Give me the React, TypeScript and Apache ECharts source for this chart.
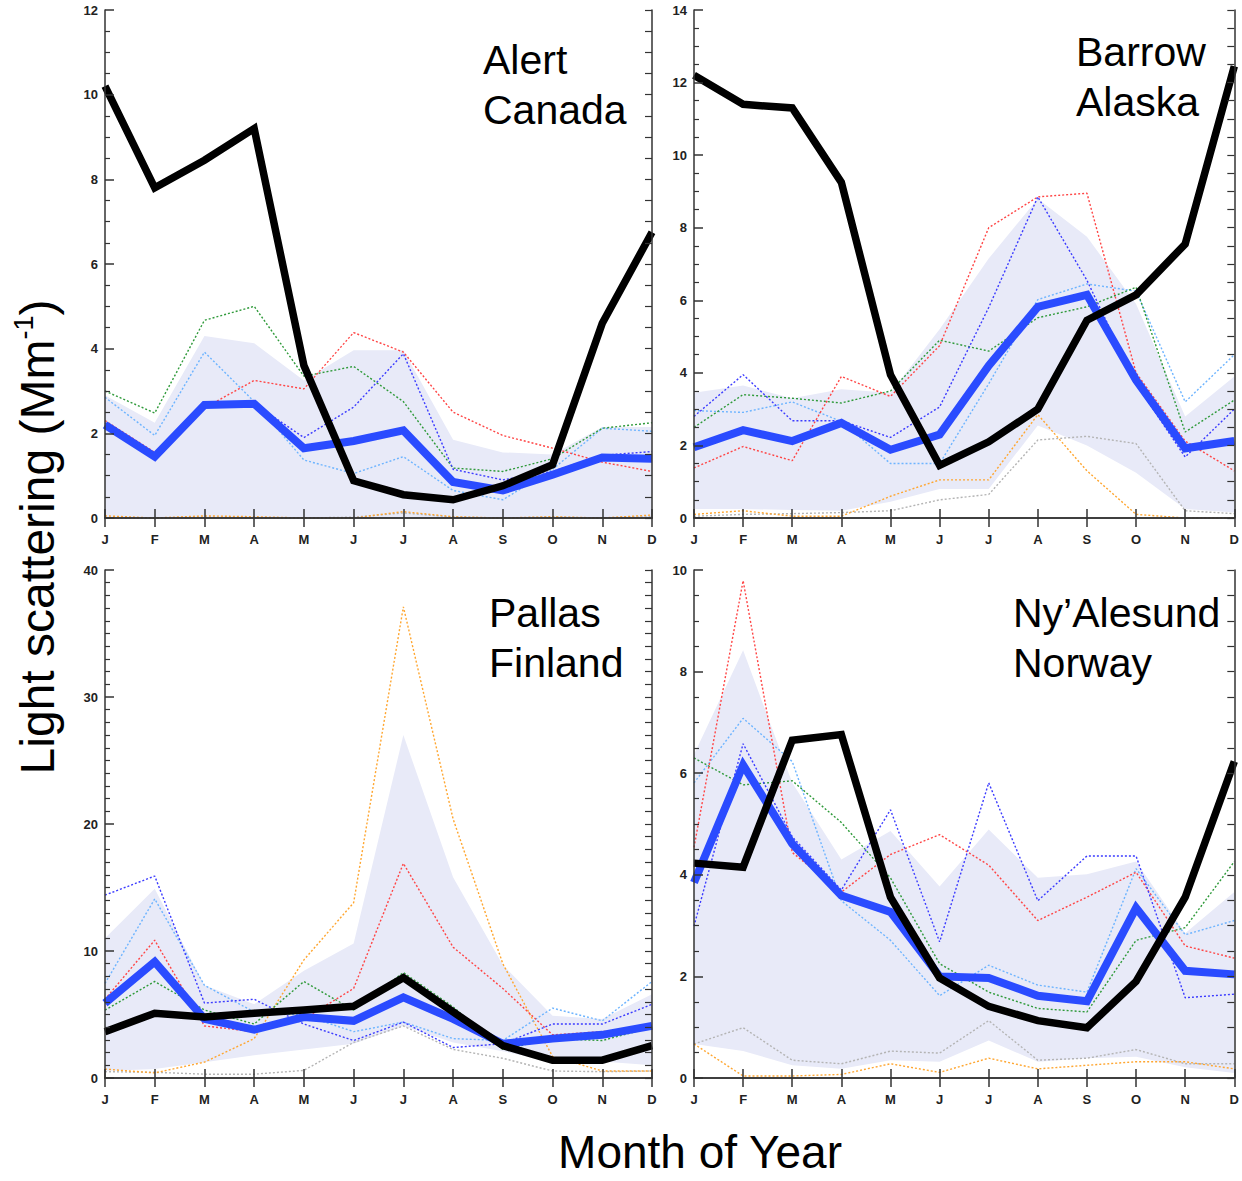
import React, { useEffect, useRef } from 'react';
import * as echarts from 'echarts';

const months = ['J', 'F', 'M', 'A', 'M', 'J', 'J', 'A', 'S', 'O', 'N', 'D'];

// Alert, Canada
const alertBlack = [10.2, 7.8, 8.45, 9.2, 3.6, 0.88, 0.55, 0.43, 0.76, 1.26, 4.6, 6.75];
const alertMean = [2.2, 1.45, 2.67, 2.7, 1.65, 1.82, 2.07, 0.85, 0.65, 1.02, 1.43, 1.4];
const alertBandLow = [0, 0, 0, 0, 0, 0, 0, 0, 0, 0, 0, 0];
const alertBandHigh = [2.9, 2.25, 4.3, 4.13, 3.25, 3.96, 3.96, 1.85, 1.55, 1.5, 2.15, 2.15];
const alertRed = [2.3, 1.55, 2.6, 3.25, 3.05, 4.38, 3.92, 2.5, 1.95, 1.65, 1.32, 1.1];
const alertGreen = [3.0, 2.48, 4.67, 5.0, 3.35, 3.58, 2.75, 1.18, 1.1, 1.4, 2.12, 2.25];
const alertLightBlue = [2.85, 1.95, 3.92, 2.75, 1.37, 1.05, 1.45, 0.65, 0.43, 1.15, 2.12, 2.05];
const alertBlue = [2.25, 1.5, 2.7, 2.7, 1.9, 2.62, 3.88, 1.15, 0.9, 1.1, 1.48, 1.57];
const alertOrange = [0.05, 0.0, 0.05, 0.03, 0.0, 0.0, 0.15, 0.03, 0.0, 0.03, 0.0, 0.07];
const alertGray = [0.0, 0.0, 0.02, 0.0, 0.0, 0.02, 0.12, 0.02, 0.0, 0.02, 0.0, 0.03];

// Barrow, Alaska
const barrowBlack = [12.2, 11.4, 11.3, 9.25, 3.95, 1.45, 2.1, 3.0, 5.45, 6.15, 7.55, 12.45];
const barrowMean = [1.95, 2.42, 2.12, 2.62, 1.88, 2.3, 4.2, 5.82, 6.15, 3.8, 1.92, 2.12];
const barrowBandLow = [0.25, 0.25, 0.22, 0.2, 0.45, 0.8, 0.8, 2.55, 2.0, 1.25, 0.25, 0.15];
const barrowBandHigh = [3.45, 3.65, 3.3, 3.55, 3.45, 5.2, 7.15, 8.8, 7.75, 5.9, 2.8, 3.9];
const barrowRed = [1.38, 1.97, 1.58, 3.9, 3.35, 4.75, 8.0, 8.85, 8.95, 4.0, 2.12, 1.3];
const barrowGreen = [2.5, 3.4, 3.3, 3.17, 3.5, 4.9, 4.6, 5.52, 5.82, 6.36, 2.37, 3.25];
const barrowLightBlue = [2.96, 2.91, 3.2, 2.66, 1.5, 1.5, 3.7, 6.02, 6.45, 6.25, 3.2, 4.5];
const barrowBlue = [2.8, 3.95, 2.68, 2.68, 2.22, 3.06, 5.8, 8.85, 6.55, 3.7, 1.68, 3.0];
const barrowOrange = [0.1, 0.2, 0.05, 0.05, 0.6, 1.05, 1.05, 2.85, 1.3, 0.1, 0.0, 0.0];
const barrowGray = [0.05, 0.1, 0.12, 0.15, 0.2, 0.5, 0.65, 2.15, 2.25, 2.05, 0.2, 0.12];

// Pallas, Finland
const pallasBlack = [3.65, 5.1, 4.8, 5.1, 5.35, 5.65, 7.9, 5.2, 2.55, 1.4, 1.4, 2.55];
const pallasMean = [5.9, 9.15, 4.65, 3.8, 4.8, 4.5, 6.35, 4.65, 2.7, 3.1, 3.4, 4.1];
const pallasBandLow = [0.55, 0.7, 1.25, 1.8, 2.25, 2.7, 4.1, 2.8, 2.1, 1.3, 1.3, 1.0];
const pallasBandHigh = [11.0, 14.9, 7.3, 5.8, 8.45, 10.6, 27.0, 15.8, 8.9, 4.9, 4.65, 6.6];
const pallasRed = [6.2, 10.85, 4.1, 3.65, 4.65, 7.05, 16.9, 10.3, 7.05, 3.4, 3.65, 3.95];
const pallasGreen = [5.35, 7.6, 5.35, 4.25, 7.6, 5.35, 8.3, 5.6, 2.25, 3.1, 2.95, 4.0];
const pallasLightBlue = [7.45, 14.1, 7.3, 5.2, 4.95, 3.65, 4.4, 3.1, 2.95, 5.5, 4.5, 7.6];
const pallasBlue = [14.4, 15.9, 5.9, 6.2, 4.25, 2.95, 4.4, 2.4, 2.7, 4.25, 4.25, 5.8];
const pallasOrange = [0.7, 0.4, 1.25, 3.1, 9.3, 13.8, 37.1, 20.4, 9.0, 1.7, 0.55, 0.55];
const pallasGray = [0.5, 0.45, 0.3, 0.3, 0.6, 2.8, 4.1, 2.25, 1.55, 0.55, 0.5, 0.55];

// Ny'Alesund, Norway
const nyBlack = [4.23, 4.15, 6.65, 6.76, 3.56, 1.97, 1.41, 1.13, 0.99, 1.9, 3.56, 6.23];
const nyMean = [3.85, 6.16, 4.61, 3.59, 3.27, 2.0, 1.97, 1.62, 1.51, 3.35, 2.11, 2.04];
const nyBandLow = [0.67, 0.53, 0.25, 0.18, 0.35, 0.32, 0.74, 0.32, 0.39, 0.42, 0.21, 0.1];
const nyBandHigh = [6.37, 8.42, 5.81, 4.3, 4.86, 3.77, 4.89, 3.94, 4.01, 4.26, 2.85, 3.66];
const nyRed = [4.54, 9.79, 4.44, 3.66, 4.4, 4.79, 4.19, 3.1, 3.56, 4.05, 2.6, 2.36];
const nyGreen = [6.3, 5.77, 5.85, 5.03, 3.94, 2.25, 1.69, 1.37, 1.3, 2.71, 2.96, 4.26];
const nyLightBlue = [5.81, 7.08, 6.23, 3.49, 2.71, 1.62, 2.22, 1.83, 1.69, 4.12, 2.82, 3.1];
const nyBlue = [2.99, 6.58, 4.75, 3.7, 5.28, 2.68, 5.81, 3.49, 4.37, 4.37, 1.58, 1.65];
const nyOrange = [0.67, 0.04, 0.04, 0.07, 0.28, 0.11, 0.39, 0.18, 0.25, 0.32, 0.32, 0.18];
const nyGray = [0.67, 0.99, 0.35, 0.28, 0.53, 0.49, 1.13, 0.35, 0.39, 0.56, 0.28, 0.28];

const panelTitles = ['Alert\nCanada', 'Barrow\nAlaska', 'Pallas\nFinland', 'Ny\u2019Alesund\nNorway'];
const yMax = [12, 14, 40, 10];
const yInterval = [2, 2, 10, 2];
const yMinorSplit = [4, 4, 10, 4];
const yRightInterval = [0.5, 0.5, 1, 0.5];

const panelData = [
  { black: alertBlack, mean: alertMean, low: alertBandLow, high: alertBandHigh,
    dotted: [alertGray, alertOrange, alertLightBlue, alertGreen, alertRed, alertBlue] },
  { black: barrowBlack, mean: barrowMean, low: barrowBandLow, high: barrowBandHigh,
    dotted: [barrowGray, barrowOrange, barrowLightBlue, barrowGreen, barrowRed, barrowBlue] },
  { black: pallasBlack, mean: pallasMean, low: pallasBandLow, high: pallasBandHigh,
    dotted: [pallasGray, pallasOrange, pallasLightBlue, pallasGreen, pallasRed, pallasBlue] },
  { black: nyBlack, mean: nyMean, low: nyBandLow, high: nyBandHigh,
    dotted: [nyGray, nyOrange, nyLightBlue, nyGreen, nyRed, nyBlue] },
];

const FONT = '"Liberation Sans", Arial, Helvetica, sans-serif';
const DOT_COLORS = ['#b4b4b4', '#ffa630', '#6db4ff', '#2f9a3a', '#ff4545', '#3b3bff'];
const BAND = '#e8eaf8';
const MEAN = '#2a4bff';
const AXIS = '#333';

const layout = [
  { left: 105, top: 10, width: 547, height: 508, lx: 483, ly: 35 },
  { left: 694, top: 10, width: 547, height: 508, lx: 1076, ly: 27 },
  { left: 105, top: 570, width: 547, height: 508, lx: 489, ly: 588 },
  { left: 694, top: 570, width: 547, height: 508, lx: 1013, ly: 588 },
];

function buildOption() {
  const grid: any[] = [];
  const xAxis: any[] = [];
  const yAxis: any[] = [];
  const series: any[] = [];

  layout.forEach((l, i) => {
    grid.push({ left: l.left, top: l.top, width: l.width, height: l.height, containLabel: false });
    const axisLine = { show: true, lineStyle: { color: AXIS, width: 1.5 } };
    xAxis.push({
      type: 'category', gridIndex: i, data: months, boundaryGap: false, position: 'bottom', z: 10,
      axisLine, axisTick: { show: true, inside: true, length: 9, interval: 0, lineStyle: { color: AXIS, width: 1.5 } },
      axisLabel: { interval: 0, margin: 15, fontSize: 13, fontWeight: 'bold', color: '#222', fontFamily: FONT },
      splitLine: { show: false },
    });
    xAxis.push({
      type: 'category', gridIndex: i, data: months, boundaryGap: false, position: 'top', z: 10,
      axisLine, axisTick: { show: true, inside: true, length: 9, interval: 0, lineStyle: { color: AXIS, width: 1.5 } },
      axisLabel: { show: false }, splitLine: { show: false },
    });
    yAxis.push({
      type: 'value', gridIndex: i, min: 0, max: yMax[i], interval: yInterval[i], position: 'left', z: 10,
      axisLine, axisTick: { show: true, inside: true, length: 9, lineStyle: { color: AXIS, width: 1.5 } },
      minorTick: { show: true, splitNumber: yMinorSplit[i], length: 5, lineStyle: { color: AXIS, width: 1.2 } },
      axisLabel: { margin: 7, fontSize: 13, fontWeight: 'bold', color: '#222', fontFamily: FONT },
      splitLine: { show: false },
    });
    yAxis.push({
      type: 'value', gridIndex: i, min: 0, max: yMax[i], interval: yRightInterval[i], position: 'right', z: 10,
      axisLine, axisTick: { show: true, inside: true, length: 7, lineStyle: { color: AXIS, width: 1.2 } },
      axisLabel: { show: false }, splitLine: { show: false },
    });

    const p = panelData[i];
    const xi = 2 * i;
    const yi = 2 * i;
    series.push({
      type: 'line', xAxisIndex: xi, yAxisIndex: yi, data: p.low, stack: 'band' + i, symbol: 'none',
      lineStyle: { opacity: 0, width: 0 }, silent: true,
    });
    series.push({
      type: 'line', xAxisIndex: xi, yAxisIndex: yi, data: p.high.map((h, k) => +(h - p.low[k]).toFixed(4)),
      stack: 'band' + i, symbol: 'none', lineStyle: { opacity: 0, width: 0 },
      areaStyle: { color: BAND, opacity: 1 }, silent: true,
    });
    p.dotted.forEach((d, k) => {
      series.push({
        type: 'line', xAxisIndex: xi, yAxisIndex: yi, data: d, symbol: 'none', silent: true,
        lineStyle: { color: DOT_COLORS[k], width: 1.4, type: [2, 2] },
      });
    });
    series.push({
      type: 'line', xAxisIndex: xi, yAxisIndex: yi, data: p.mean, symbol: 'none', silent: true,
      lineStyle: { color: MEAN, width: 8, join: 'miter' },
    });
    series.push({
      type: 'line', xAxisIndex: xi, yAxisIndex: yi, data: p.black, symbol: 'none', silent: true,
      lineStyle: { color: '#000', width: 7.5, join: 'miter' },
    });
  });

  const graphic: any[] = layout.map((l, i) => ({
    type: 'text', x: l.lx, y: l.ly, z: 100,
    style: { text: panelTitles[i], fill: '#000', font: `41px ${FONT}`, lineHeight: 50, align: 'left', verticalAlign: 'top' },
  }));
  graphic.push({
    type: 'text', x: 700, y: 1152, z: 100,
    style: { text: 'Month of Year', fill: '#000', font: `46px ${FONT}`, align: 'center', verticalAlign: 'middle' },
  });
  graphic.push({
    type: 'text', x: 37, y: 537, rotation: Math.PI / 2, z: 100,
    style: {
      text: '{a|Light scattering (Mm}{s|-1}{a|)}',
      align: 'center', verticalAlign: 'middle',
      rich: {
        a: { fontSize: 48, fontFamily: FONT, fill: '#000', lineHeight: 54 },
        s: { fontSize: 27, fontFamily: FONT, fill: '#000', lineHeight: 27, verticalAlign: 'top' },
      },
    },
  });

  return { animation: false, backgroundColor: '#fff', grid, xAxis, yAxis, series, graphic };
}

export default function App() {
  const ref = useRef<HTMLDivElement>(null);
  useEffect(() => {
    const chart = echarts.init(ref.current!, null, { renderer: 'svg' });
    chart.setOption(buildOption() as any);
    return () => chart.dispose();
  }, []);
  return (
    <div
      ref={ref}
      style={{ position: 'absolute', left: 0, top: 0, width: 1242, height: 1181, background: '#fff' }}
    />
  );
}
